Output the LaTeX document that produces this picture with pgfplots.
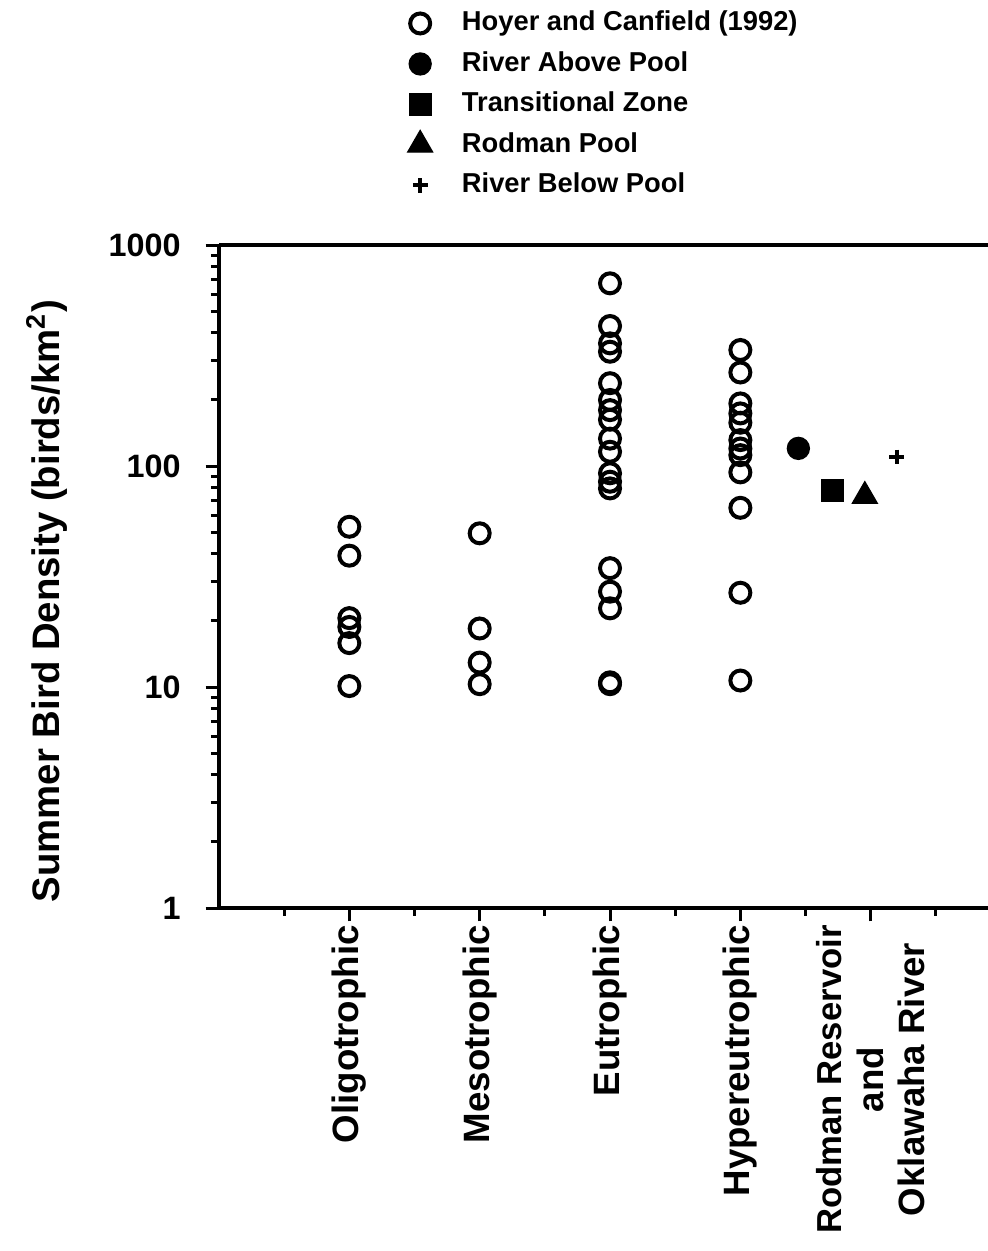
\documentclass[border=0pt]{standalone}
\usepackage{fontspec}
\setmainfont{Liberation Sans}
\usepackage{pgfplots}
\pgfplotsset{compat=1.18}

\begin{document}
\begin{tikzpicture}
\begin{axis}[
  name=ax,
  scale only axis,
  width=230.7pt, height=198.9pt,
  ymode=log,
  ymin=1, ymax=1000,
  xmin=0, xmax=11.8,
  axis x line*=box,
  axis y line*=left,
  axis line style={line width=1.2pt},
  xtick={2,4,6,8,10},
  minor xtick={1,3,5,7,9,11},
  xtick pos=bottom,
  ytick pos=left,
  ytick={1,10,100,1000},
  yticklabels={1,10,100,1000},
  tick align=outside,
  major tick length=4pt,
  minor tick length=2.4pt,
  tick style={line width=0.9pt, black},
  xticklabels={Oligotrophic,Mesotrophic,Eutrophic,Hypereutrophic,
    {\fontsize{10.4}{12.3}\selectfont Rodman Reservoir\\and\\Oklawaha River}},
  xticklabel style={rotate=90, anchor=east, align=center, inner sep=1pt,
    font=\fontsize{11}{12.5}\selectfont\bfseries},
  yticklabel style={font=\fontsize{9.7}{11}\selectfont\bfseries, xshift=-4pt},
  /pgf/number format/assume math mode=true,
  ylabel={Summer Bird Density (birds/km$^{\mathbf{2}}$)},
  ylabel style={at={(axis description cs:-0.224,0.463)}, anchor=center,
    font=\fontsize{11.5}{13}\selectfont\bfseries},
  legend style={draw=none, fill=none, at={(0.2316,1.374)}, anchor=north west,
    font=\fontsize{8.2}{9.5}\selectfont\bfseries, row sep=0.7pt,
    /tikz/every odd column/.append style={column sep=6.8pt}},
  legend cell align=left,
  clip=false,
]
% Hoyer and Canfield (1992)
\addplot[only marks, mark=o, mark size=3pt, mark options={line width=1.2pt}, black]
coordinates {
  (2,53.1)(2,39.3)(2,20.5)(2,18.7)(2,15.8)(2,10.1)
  (4,49.6)(4,18.4)(4,12.9)(4,10.3)
  (6,671)(6,430)(6,359)(6,329)(6,237)(6,199)(6,179)(6,162)(6,133)(6,116)
  (6,92.7)(6,84.9)(6,79.2)(6,34.5)(6,27.0)(6,22.7)(6,10.3)(6,10.5)
  (8,335)(8,265)(8,192)(8,173)(8,157)(8,131)(8,120)(8,112)(8,93.6)
  (8,64.7)(8,26.7)(8,10.7)
};
\addlegendentry{Hoyer and Canfield (1992)}
\addplot[only marks, mark=*, mark size=3.3pt, black] coordinates {(8.89,120.2)};
\addlegendentry{River Above Pool}
\addplot[only marks, mark=square*, mark size=3.2pt, black] coordinates {(9.41,77.3)};
\addlegendentry{Transitional Zone}
\addplot[only marks, mark=triangle*, mark size=4.3pt, black] coordinates {(9.91,73.1)};
\addlegendentry{Rodman Pool}
\addplot[only marks, mark=+, mark size=2.2pt, mark options={line width=1.2pt}, black]
  coordinates {(10.40,110)};
\addlegendentry{River Below Pool}
\end{axis}
\pgfresetboundingbox
\path[use as bounding box] (-65.7pt,-102.9pt) rectangle (230.7pt,272.4pt);
\end{tikzpicture}
\end{document}
